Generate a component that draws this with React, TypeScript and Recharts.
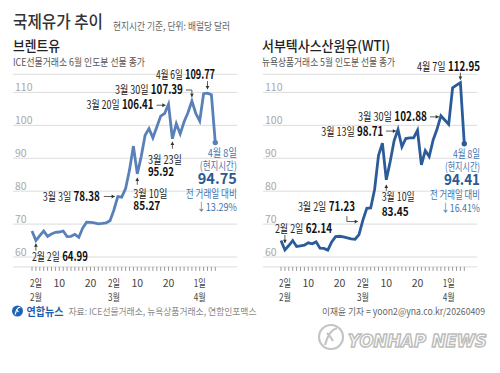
import React from "react";
import { LineChart, Line, XAxis, YAxis, CartesianGrid } from "recharts";

const FONT = "'Noto Sans CJK KR', 'Noto Sans', sans-serif";

// trading days, 30 Jan - 8 Apr 2026
const tradingDays = [
  "1/30", "2/2", "2/3", "2/4", "2/5", "2/6", "2/9", "2/10", "2/11", "2/12", "2/13",
  "2/16", "2/17", "2/18", "2/19", "2/20", "2/23", "2/24", "2/25", "2/26", "2/27",
  "3/2", "3/3", "3/4", "3/5", "3/6", "3/9", "3/10", "3/11", "3/12", "3/13",
  "3/16", "3/17", "3/18", "3/19", "3/20", "3/23", "3/24", "3/25", "3/26", "3/27",
  "3/30", "3/31", "4/1", "4/2", "4/6", "4/7", "4/8",
];

const brentClose = [
  67.9, 64.99, 66.5, 67.9, 66.3, 67.0, 67.5, 67.6, 67.9, 66.2, 66.3,
  66.9, 66.0, 68.8, 70.6, 70.5, 70.4, 70.1, 70.2, 70.4, 71.0,
  74.3, 78.38, 78.2, 80.8, 86.4, 93.7, 85.27, 90.5, 97.0, 99.0,
  96.2, 99.5, 102.8, 103.6, 106.41, 95.92, 100.5, 97.4, 101.1, 103.9,
  107.39, 103.6, 101.3, 109.6, 109.77, 109.27, 94.75,
];

const wtiClose = [
  65.0, 62.14, 63.5, 65.0, 63.2, 63.4, 63.6, 64.3, 64.0, 64.6, 62.7,
  62.6, 62.1, 64.6, 66.2, 66.3, 66.1, 65.8, 65.5, 65.4, 66.8,
  71.23, 74.8, 74.9, 80.5, 90.8, 94.6, 83.45, 89.0, 95.3, 98.71,
  93.5, 96.0, 96.2, 96.2, 98.5, 88.0, 92.3, 90.5, 95.5, 98.8,
  102.88, 101.6, 100.3, 111.4, 112.2, 112.95, 94.41,
];

const yTicks = [60, 70, 80, 90, 100, 110];
const tickDates = ["2/2", "2/10", "2/20", "3/2", "3/10", "3/20", "4/1"];
const tickDayText = ["2일", "10", "20", "2일", "10", "20", "1일"];
const tickMonthText = ["2월", "", "", "3월", "", "", "4월"];

const brentNoteDates = ["2/2", "3/3", "3/10", "3/20", "3/23", "3/30", "4/6", "4/8"];
const wtiNoteDates = ["2/2", "3/2", "3/10", "3/13", "3/30", "4/7", "4/8"];

const rows = tradingDays.map((date, i) => ({ date, brent: brentClose[i], wti: wtiClose[i] }));

type NoteStyle = {
  anchor: "start" | "end";
  tx: number;
  ty?: number;
  w: number[];
  gap?: number;
  arrow?: number[][];
  final?: boolean;
};

// label placement relative to the point (same order as the note dates)
const brentNoteStyles: NoteStyle[] = [
  { anchor: "start", tx: -4, ty: 20, w: [56], arrow: [[0, 10], [0, 3]] },
  { anchor: "end", tx: -18, ty: 4.4, w: [57], arrow: [[-14, 0], [-3, 0]] },
  { anchor: "start", tx: -4, ty: 24, gap: 12.3, w: [34, 27], arrow: [[0, 11], [0, 4]] },
  { anchor: "end", tx: -15, ty: 5.2, w: [67], arrow: [[-12, 1], [-3, 1]] },
  { anchor: "start", tx: -24.5, ty: 25, gap: 12.3, w: [34, 26], arrow: [[0, 10], [0, 3]] },
  { anchor: "end", tx: -9, ty: -7, w: [68], arrow: [[-6, -11], [0, -11], [0, -4]] },
  { anchor: "end", tx: 7.5, ty: -14, w: [59], arrow: [[0, -12], [0, -4]] },
  { anchor: "end", tx: 21.5, w: [29, 37, 39, 51, 40], final: true },
];

const wtiNoteStyles: NoteStyle[] = [
  { anchor: "start", tx: -10, ty: -17.3, w: [57], arrow: [[0, -15], [0, -7]] },
  { anchor: "end", tx: -8, ty: -8.9, w: [57], arrow: [[-16, -4], [-16, 1.5], [-5, 1.5]] },
  { anchor: "start", tx: -4.6, ty: 21.3, gap: 15.3, w: [33, 27], arrow: [[0, 11], [0, 5]] },
  { anchor: "end", tx: -14.7, ty: 6.5, w: [62], arrow: [[-12, 1.5], [-2, 1.5]] },
  { anchor: "end", tx: -14, ty: 5.3, w: [69], arrow: [[-11, 1], [-2, 1]] },
  { anchor: "end", tx: 19.6, ty: -11.6, w: [63], arrow: [[0, -10], [0, -3]] },
  { anchor: "end", tx: 15.7, w: [27, 35, 36, 50, 39], final: true },
];

const finalRows = [14, 27.5, 41.5, 55.5, 68.5];

const dayLabel = (d: string) => {
  const [m, dd] = d.split("/");
  return `${m}월 ${dd}일`;
};

function Arrow({ pts, cx, cy }: { pts: number[][]; cx: number; cy: number }) {
  const p = pts.map(([dx, dy]) => [cx + dx, cy + dy]);
  const d = p.map((q, i) => `${i ? "L" : "M"}${q[0]},${q[1]}`).join(" ");
  const [x2, y2] = p[p.length - 1];
  const [x1, y1] = p[p.length - 2];
  const a = Math.atan2(y2 - y1, x2 - x1);
  const hl = 3.2;
  const hw = 1.9;
  const bx = x2 - hl * Math.cos(a);
  const by = y2 - hl * Math.sin(a);
  const head = `M${x2},${y2} L${bx - hw * Math.sin(a)},${by + hw * Math.cos(a)} L${bx + hw * Math.sin(a)},${by - hw * Math.cos(a)} Z`;
  return (
    <g>
      <path d={d} stroke="#333" strokeWidth={0.8} fill="none" />
      <path d={head} fill="#333" />
    </g>
  );
}

function Note({ cx, cy, date, value, prev, color, s }: any) {
  const label = dayLabel(date);
  const val = value.toFixed(2);
  const fit = { lengthAdjust: "spacingAndGlyphs" as const, fontFamily: FONT };
  if (s.final) {
    const pct = ((1 - value / prev) * 100).toFixed(2);
    const x = cx + s.tx;
    const blue = "#4374ad";
    const lines = [
      { t: label, size: 11, weight: 400, fill: blue },
      { t: "(현지시간)", size: 11, weight: 400, fill: blue },
      { t: val, size: 15, weight: 700, fill: "#2a5a91" },
      { t: "전 거래일 대비", size: 11, weight: 400, fill: blue },
      { t: `↓${pct}%`, size: 11, weight: 400, fill: blue },
    ];
    return (
      <g>
        <circle cx={cx} cy={cy} r={2.7} fill={color} />
        {lines.map((l, i) => (
          <text key={i} x={x} y={cy + finalRows[i]} textAnchor="end" fontSize={l.size}
            fontWeight={l.weight} fill={l.fill} textLength={s.w[i]} {...fit}>
            {l.t}
          </text>
        ))}
      </g>
    );
  }
  const x = cx + s.tx;
  const y = cy + s.ty;
  return (
    <g>
      {s.arrow && <Arrow pts={s.arrow} cx={cx} cy={cy} />}
      {s.gap ? (
        <g>
          <text x={x} y={y} textAnchor={s.anchor} fontSize={11.5} fill="#222" textLength={s.w[0]} {...fit}>
            {label}
          </text>
          <text x={x} y={y + s.gap} textAnchor={s.anchor} fontSize={12.5} fontWeight={700} fill="#111"
            textLength={s.w[1]} {...fit}>
            {val}
          </text>
        </g>
      ) : (
        <text x={x} y={y} textAnchor={s.anchor} fill="#222" textLength={s.w[0]} {...fit}>
          <tspan fontSize={11.5}>{label}</tspan>
          <tspan dx={3} fontSize={12.5} fontWeight={700} fill="#111">{val}</tspan>
        </text>
      )}
    </g>
  );
}

const DayTick = (props: any) => {
  const { x, y, payload } = props;
  const k = tickDates.indexOf(payload.value);
  if (k < 0) return <g />;
  const hangul = (t: string) => /[가-힣]/.test(t);
  const day = tickDayText[k];
  const month = tickMonthText[k];
  return (
    <g fontFamily={FONT} fontSize={10.5} fill="#444">
      <text x={x} y={y + 16} textAnchor="middle" {...(hangul(day) ? { textLength: 12, lengthAdjust: "spacingAndGlyphs" } : {})}>
        {day}
      </text>
      {month && (
        <text x={x} y={y + 30} textAnchor="middle" textLength={12} lengthAdjust="spacingAndGlyphs">
          {month}
        </text>
      )}
    </g>
  );
};

const ValueTick = (props: any) => (
  <text x={props.x + 2} y={props.y - 1} fill="#a8a8a8" fontSize={10.5} fontFamily={FONT} textAnchor="start">
    {props.payload.value}
  </text>
);

function OilChart({ field, color, noteDates, noteStyles, padLeft, padRight, marginRight }: any) {
  const renderDot = (p: any) => {
    const { cx, cy, index, payload } = p;
    const k = noteDates.indexOf(payload.date);
    if (k < 0 || cx == null) return <g key={`d${index}`} />;
    return (
      <g key={`d${index}`}>
        <Note cx={cx} cy={cy} date={payload.date} value={payload[field]}
          prev={rows[index - 1][field]} color={color} s={noteStyles[k]} />
      </g>
    );
  };
  return (
    <LineChart width={250} height={310} data={rows}
      margin={{ top: 74.3, right: marginRight, bottom: 13.1, left: 13 }}>
      <CartesianGrid vertical={false} stroke="#dcdcdc" />
      <XAxis dataKey="date" interval={0} height={30} tickSize={4} tickMargin={0} axisLine={false}
        tickLine={{ stroke: "#9a9a9a" }} tick={<DayTick />} padding={{ left: padLeft, right: padRight }} />
      <YAxis type="number" domain={[57, 115.5]} ticks={yTicks} width={30} mirror axisLine={false}
        tickLine={false} tickSize={0} tickMargin={0} tick={<ValueTick />} />
      <Line type="linear" dataKey={field} stroke={color} strokeWidth={2.8} dot={renderDot}
        activeDot={false} isAnimationActive={false} />
    </LineChart>
  );
}

function Label({ x, y, size, w, fill, weight = 400, children }: any) {
  return (
    <text x={x} y={y} fontSize={size} fontWeight={weight} fill={fill} textLength={w}
      lengthAdjust="spacingAndGlyphs" fontFamily={FONT}>
      {children}
    </text>
  );
}

export default function App() {
  return (
    <div style={{ position: "absolute", left: 0, top: 0, width: 500, height: 373, background: "#fff", overflow: "hidden" }}>
      <svg width={500} height={373} style={{ position: "absolute", left: 0, top: 0 }}>
        <Label x={13} y={27.5} size={17} w={90} fill="#333" weight={500}>국제유가 추이</Label>
        <Label x={113} y={29.5} size={10} w={117} fill="#666">현지시간 기준, 단위: 배럴당 달러</Label>
        <Label x={13} y={51} size={14} w={47} fill="#222" weight={500}>브렌트유</Label>
        <Label x={262} y={51} size={14} w={128} fill="#222" weight={500}>서부텍사스산원유(WTI)</Label>
        <Label x={13} y={65.5} size={10} w={132} fill="#555">ICE선물거래소 6월 인도분 선물 종가</Label>
        <Label x={262} y={65.5} size={10} w={133} fill="#555">뉴욕상품거래소 5월 인도분 선물 종가</Label>

        <circle cx={17.5} cy={311} r={5.5} fill="#1e63b5" />
        <path d="M15.2,314.5 Q17,306.5 20.3,307.5 M16.5,309 L18.3,312" stroke="#fff" strokeWidth={1.2} fill="none" />
        <Label x={26.5} y={315.5} size={11} w={37} fill="#1f5fae" weight={700}>연합뉴스</Label>
        <Label x={68.5} y={315} size={9.5} w={188} fill="#8a8a8a">자료: ICE선물거래소, 뉴욕상품거래소, 연합인포맥스</Label>
        <Label x={322} y={315} size={9.5} w={163} fill="#666">이재윤 기자 = yoon2@yna.co.kr/20260409</Label>

        <circle cx={331} cy={337} r={12} fill="#fff" stroke="#c4c4c4" strokeWidth={2.2} />
        <path d="M325,345 Q329,330 337,328 M327,333 Q331,337 333,341" stroke="#c4c4c4" strokeWidth={2.2} fill="none" />
        <text x={348} y={346.5} fontSize={17} fontWeight={700} fontStyle="italic" fill="#fff" stroke="#bdbdbd"
          strokeWidth={1.5} textLength={139} lengthAdjust="spacingAndGlyphs" fontFamily="'DejaVu Sans', sans-serif">
          YONHAP NEWS
        </text>
      </svg>
      <div style={{ position: "absolute", left: 0, top: 0 }}>
        <OilChart field="brent" color="#5a80b9" noteDates={brentNoteDates} noteStyles={brentNoteStyles}
          padLeft={19} padRight={21.7} marginRight={13} />
      </div>
      <div style={{ position: "absolute", left: 250, top: 0 }}>
        <OilChart field="wti" color="#2c5b9a" noteDates={wtiNoteDates} noteStyles={wtiNoteStyles}
          padLeft={18} padRight={12.7} marginRight={23} />
      </div>
    </div>
  );
}
